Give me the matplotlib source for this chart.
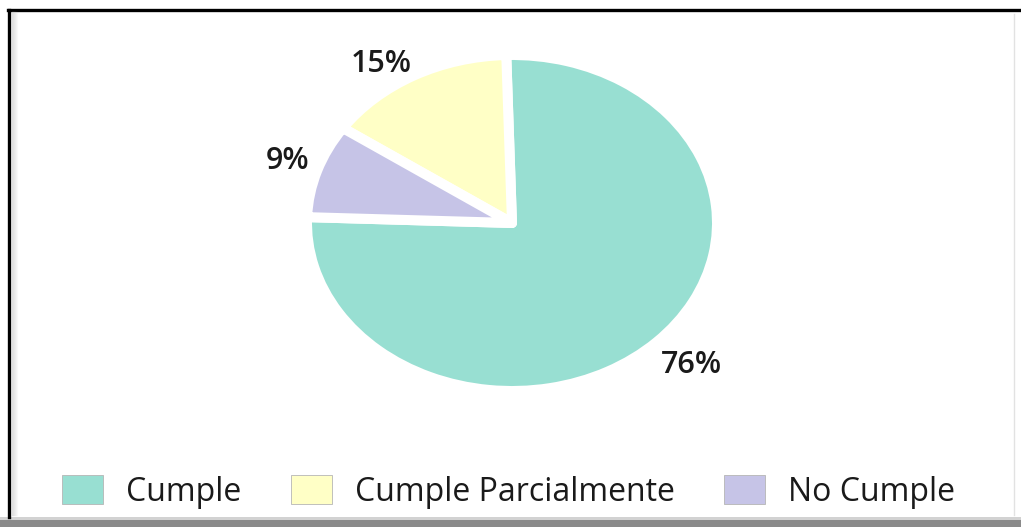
import matplotlib
matplotlib.use("Agg")
import matplotlib.pyplot as plt
from matplotlib.patches import Patch, Rectangle
from matplotlib.lines import Line2D

# ---- data ----
categories = ["Cumple", "Cumple Parcialmente", "No Cumple"]
values = [76, 15, 9]
colors = ["#98DFD2", "#FFFFC6", "#C6C4E7"]

W, H = 1021, 527
fig = plt.figure(figsize=(W / 100, H / 100), dpi=100)
fig.patch.set_facecolor("white")
ax = fig.add_axes([0, 0, 1, 1])

# pie geometry (pixel based, stretched ellipse like the reference)
cx, cy = 512, 223   # centre in pixels from left / top
rx, ry = 205, 168   # radii in pixels

wedges, texts, autotexts = ax.pie(
    values,
    colors=colors,
    startangle=178,
    counterclock=True,
    autopct=lambda p: f"{p:.0f}%",
    pctdistance=1.19,
    wedgeprops=dict(edgecolor="white", linewidth=7.2, joinstyle="round"),
    textprops=dict(fontsize=22, fontfamily="Open Sans", fontweight="semibold",
                   color="#1a1a1a"),
)
ax.set_aspect("auto")
ax.set_xlim(-cx / rx, (W - cx) / rx)
ax.set_ylim(-(H - cy) / ry, cy / ry)
ax.axis("off")

# nudge labels as in the reference
nudges = [(0.035, 0.0), (-0.07, -0.10), (0.035, 0.0)]
for t, (dx, dy) in zip(autotexts, nudges):
    x, y = t.get_position()
    t.set_position((x + dx, y + dy))

# ---- legend ----
handles = [Patch(facecolor=c, edgecolor="#b5b5b5", linewidth=0.6) for c in colors]
leg = fig.legend(
    handles, categories,
    loc="center left", bbox_to_anchor=(62 / W, 1 - 492 / H),
    ncol=3, frameon=False, borderpad=0, borderaxespad=0,
    handlelength=1.28, handleheight=1.02, handletextpad=0.72,
    columnspacing=1.55,
    prop=dict(family="Open Sans", size=23),
)
for t in leg.get_texts():
    t.set_color("#1a1a1a")

# ---- frame decoration ----
fig.add_artist(Line2D([8 / W, 1], [1 - 10 / H, 1 - 10 / H],
                      transform=fig.transFigure, color="black", lw=2.4))
fig.add_artist(Line2D([9 / W, 9 / W], [10 / H, 1 - 10 / H],
                      transform=fig.transFigure, color="black", lw=2.4))
for i in range(6):
    fig.add_artist(Line2D([(11.5 + i) / W, (11.5 + i) / W], [12 / H, 1 - 12 / H],
                          transform=fig.transFigure, color="#c8c8c8",
                          lw=1, alpha=0.5 * (1 - i / 6)))
fig.add_artist(Rectangle((0, 0), 1, 7 / H, transform=fig.transFigure,
                         facecolor="#8a8a8a", edgecolor="none"))
fig.add_artist(Rectangle((0, 7 / H), 1, 3 / H, transform=fig.transFigure,
                         facecolor="#d2d2d2", edgecolor="none"))
fig.add_artist(Line2D([1014 / W, 1014 / W], [12 / H, 1 - 14 / H],
                      transform=fig.transFigure, color="#e2e2e2", lw=1))

fig.savefig("out.png", dpi=100)
